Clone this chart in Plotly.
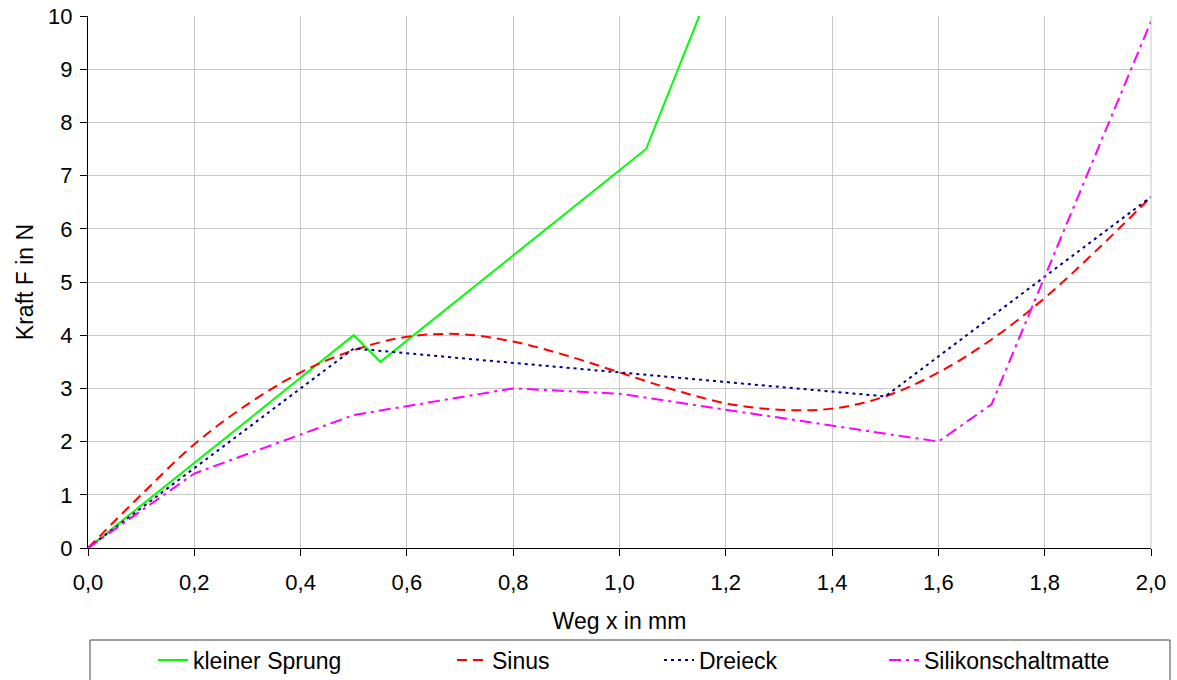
import plotly.graph_objects as go

# ---- data ----
sprung_x = [0.0, 0.5, 0.55, 1.05, 1.2]
sprung_y = [0.0, 4.0, 3.5, 7.5, 11.25]

sinus_x = [0.0, 0.1, 0.2, 0.3, 0.4, 0.5, 0.6, 0.7, 0.8, 0.9, 1.0,
           1.1, 1.2, 1.3, 1.4, 1.5, 1.6, 1.7, 1.8, 1.9, 2.0]
sinus_y = [0.0, 1.0, 1.95, 2.7, 3.3, 3.72, 3.97, 4.02, 3.88, 3.62, 3.3,
           2.98, 2.72, 2.6, 2.62, 2.85, 3.3, 3.92, 4.7, 5.62, 6.6]

dreieck_x = [0.0, 0.5, 1.5, 2.0]
dreieck_y = [0.0, 3.75, 2.85, 6.6]

matte_x = [0.0, 0.2, 0.5, 0.8, 1.0, 1.6, 1.7, 2.0]
matte_y = [0.0, 1.4, 2.5, 3.0, 2.9, 2.0, 2.7, 9.9]

names = ["kleiner Sprung", "Sinus", "Dreieck", "Silikonschaltmatte"]

FONT = "Liberation Sans, Arial, sans-serif"

W, H = 1177, 680
L, R, T, B = 88, 26, 16, 132
pw, ph = W - L - R, H - T - B


def px2paper_x(px):
    return (px - L) / pw


def py2paper_y(py):
    return (H - B - py) / ph


fig = go.Figure()
fig.add_trace(go.Scatter(x=sprung_x, y=sprung_y, mode="lines", name=names[0],
                         line=dict(color="#00FF00", width=2), legend="legend"))
fig.add_trace(go.Scatter(x=sinus_x, y=sinus_y, mode="lines", name=names[1],
                         line=dict(color="#FF0000", width=2, dash="10px,6px",
                                   shape="spline", smoothing=1.0),
                         legend="legend2"))
fig.add_trace(go.Scatter(x=dreieck_x, y=dreieck_y, mode="lines", name=names[2],
                         line=dict(color="#000080", width=2, dash="3px,4px"),
                         legend="legend3"))
fig.add_trace(go.Scatter(x=matte_x, y=matte_y, mode="lines", name=names[3],
                         line=dict(color="#FF00FF", width=2, dash="12px,5px,3px,5px"),
                         legend="legend4"))

leg_y = py2paper_y(660)
leg_common = dict(orientation="h", yanchor="middle", xanchor="left",
                  bgcolor="rgba(0,0,0,0)", borderwidth=0,
                  font=dict(family=FONT, size=23, color="black"))
text_px = [193, 492, 699, 924]
legkeys = ["legend", "legend2", "legend3", "legend4"]
layout_leg = {}
for k, tp in zip(legkeys, text_px):
    layout_leg[k] = dict(x=px2paper_x(tp - 40), y=leg_y, **leg_common)

fig.update_layout(
    width=W, height=H,
    margin=dict(l=L, r=R, t=T, b=B, autoexpand=False),
    paper_bgcolor="white", plot_bgcolor="white",
    separators=",.",
    showlegend=True,
    font=dict(family=FONT, size=22, color="black"),
    xaxis=dict(range=[0, 2], dtick=0.2, tick0=0, tickformat=".1f",
               showgrid=True, gridcolor="#c8c8c8", gridwidth=1,
               showline=True, linecolor="black", linewidth=1,
               ticks="outside", ticklen=7, tickcolor="black",
               zeroline=False, automargin=False, ticklabelstandoff=8,
               tickfont=dict(family=FONT, size=22, color="black"),
               title=dict(text="Weg x in mm", standoff=18,
                          font=dict(family=FONT, size=23, color="black"))),
    yaxis=dict(range=[0, 10], dtick=1, tick0=0,
               showgrid=True, gridcolor="#c8c8c8", gridwidth=1,
               showline=True, linecolor="black", linewidth=1,
               ticks="outside", ticklen=7, tickcolor="black",
               zeroline=False, automargin=False, ticklabelstandoff=3,
               tickfont=dict(family=FONT, size=22, color="black"),
               title=dict(text="Kraft F in N", standoff=8,
                          font=dict(family=FONT, size=23, color="black"))),
    shapes=[dict(type="rect", xref="paper", yref="paper",
                 x0=px2paper_x(90), x1=px2paper_x(1170),
                 y0=py2paper_y(700), y1=py2paper_y(640),
                 line=dict(color="#404040", width=1), fillcolor="rgba(0,0,0,0)",
                 layer="above"),
            dict(type="line", xref="paper", yref="paper",
                 x0=1, x1=1, y0=0, y1=1,
                 line=dict(color="#c8c8c8", width=1))],
    **layout_leg,
)

fig.write_html("out.html",
               config={"displayModeBar": False},
               post_script="document.body.style.margin='0px';document.body.style.overflow='hidden';")
